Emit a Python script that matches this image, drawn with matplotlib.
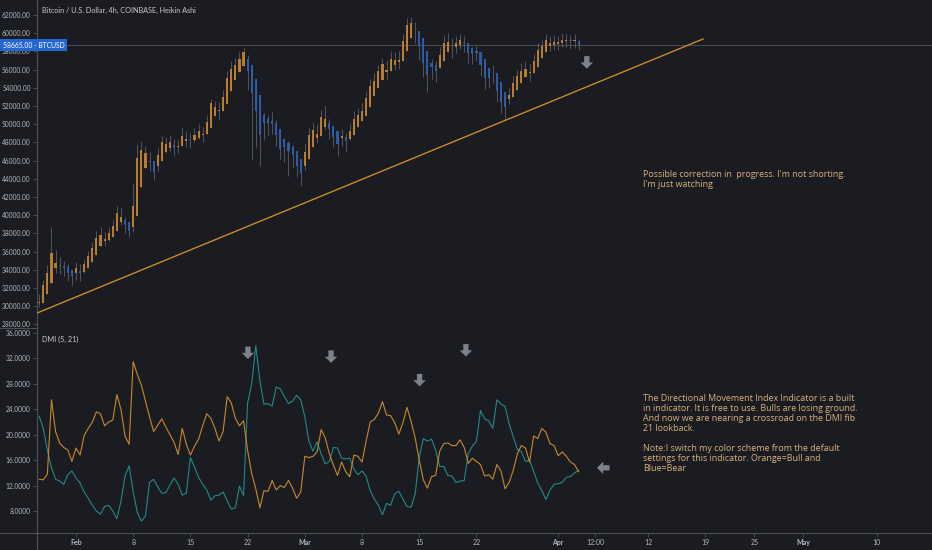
import numpy as np
import pandas as pd
import matplotlib
matplotlib.use('Agg')
import matplotlib.pyplot as plt
import matplotlib.dates as mdates
import matplotlib.transforms as mtransforms
from matplotlib.lines import Line2D

# ---- data (12h Heikin Ashi bars) ----
candle_start = '2021-01-27 12:00'
ha_open_first = 30300
ha_close = [30500, 32300, 33700, 35900, 34800, 34400, 34200, 33600, 33300, 34200,
            33700, 34600, 35500, 36400, 37500, 37800, 37400, 38000, 38800, 40200,
            39800, 38900, 38300, 41000, 46300, 47200, 46800, 45900, 44800, 46600,
            48000, 47800, 48000, 47400, 47600, 48700, 48400, 48200, 48800, 49200,
            48900, 50200, 52300, 51900, 51600, 53000, 55100, 56100, 56500, 57200,
            57900, 55900, 53400, 51400, 48800, 50100, 50100, 50000, 48800, 47300,
            47500, 47000, 46600, 45400, 44600, 46900, 48800, 49400, 48900, 50800,
            50600, 49500, 48600, 47800, 48700, 48100, 49300, 50600, 51000, 51500,
            52900, 54200, 54800, 55800, 56600, 56000, 57200, 57100, 57100, 59100,
            60900, 61100, 60200, 58600, 56700, 55400, 56300, 55900, 57600, 58950,
            59000, 58500, 58900, 59270, 58900, 57800, 57700, 57800, 56500, 55100,
            55100, 55600, 53700, 52400, 51900, 53200, 54500, 55300, 55900, 56100,
            55700, 56900, 58175, 58600, 59200, 58900, 59000, 59000, 59300, 59300,
            59100, 59200, 58700]
ha_high = [31300, 32900, 34500, 38700, 36200, 35400, 35000, 34600, 34000, 34900,
           34600, 35200, 36100, 37100, 38300, 38700, 38200, 38700, 39500, 41000,
           40800, 39800, 39000, 43500, 47800, 48200, 47600, 46900, 45700, 47400,
           48700, 48600, 48800, 48400, 48300, 49600, 49300, 49000, 49600, 50000,
           49700, 51000, 52800, 52600, 52400, 53800, 55900, 56900, 57300, 57900,
           58400, 57600, 55000, 53000, 50200, 51200, 51000, 51300, 50500, 48600,
           48500, 48200, 47700, 46800, 45800, 47900, 49600, 50200, 50000, 51600,
           52000, 50600, 49600, 48700, 49500, 49000, 50100, 51400, 51800, 52300,
           53700, 55000, 55600, 56500, 57300, 57000, 58000, 57900, 58000, 59900,
           61700, 61800, 61200, 59800, 57900, 56800, 57200, 56900, 58500, 59800,
           60000, 59500, 59700, 59900, 59700, 58800, 58500, 58600, 57600, 56300,
           56000, 56500, 55000, 53600, 52900, 54000, 55300, 56000, 56700, 56900,
           56600, 57700, 58900, 59300, 59900, 59700, 59800, 59700, 60000, 59900,
           59800, 59900, 59400]
ha_low = [29900, 31300, 32600, 33800, 33600, 33500, 33300, 32800, 32300, 32900,
          32800, 33700, 34600, 35500, 36500, 36800, 36600, 37200, 38000, 39200,
          38900, 38000, 37600, 38200, 42800, 46200, 45800, 44900, 43900, 44900,
          46900, 46800, 47100, 46500, 46800, 47800, 47500, 47400, 48000, 48400,
          48000, 49200, 51200, 50900, 50500, 51800, 53900, 55000, 55600, 56300,
          56800, 53800, 46100, 47500, 45400, 48300, 48800, 48900, 47600, 46200,
          45900, 44300, 45300, 44200, 43200, 45000, 47600, 48400, 47900, 49600,
          49500, 48400, 47500, 46500, 47600, 47100, 48300, 49500, 50000, 50500,
          51800, 53200, 53800, 54800, 55600, 54900, 56000, 56000, 56100, 57900,
          59700, 60000, 58900, 57000, 55200, 53500, 55000, 54600, 56500, 57900,
          58000, 57300, 57800, 58300, 57900, 56700, 56600, 56900, 55300, 53900,
          54000, 54500, 52600, 51200, 50500, 52200, 53500, 54400, 55000, 55200,
          54700, 55900, 57100, 57700, 58300, 58000, 58100, 58200, 58500, 58500,
          58300, 58400, 58100]

# DMI (5, 21), sampled every 12h
di_plus = [13.0, 12.9, 13.8, 25.5, 20.5, 18.7, 18.0, 17.6, 15.8, 17.9,
           16.8, 19.9, 21.0, 22.0, 23.6, 23.3, 21.4, 22.0, 22.3, 26.3,
           24.0, 19.8, 18.5, 31.5, 29.5, 27.8, 25.3, 22.8, 20.5, 21.5,
           22.5, 21.2, 20.0, 18.8, 16.9, 21.0, 18.5, 16.8, 18.2, 19.3,
           21.4, 23.3, 22.6, 21.0, 19.0, 20.5, 26.0, 25.0, 22.6, 21.4,
           22.2, 17.5, 13.9, 11.5, 8.5, 11.2, 11.1, 12.8, 11.3, 12.0,
           11.7, 12.8, 11.6, 10.0, 11.0, 16.6, 16.4, 16.6, 17.3, 20.8,
           19.5, 17.0, 15.2, 13.6, 15.7, 14.2, 13.4, 16.8, 16.6, 15.7,
           19.0, 22.0, 22.4, 23.4, 25.2, 23.1, 23.0, 21.9, 20.1, 21.9,
           24.3, 22.1, 19.5, 16.0, 12.9, 11.6, 13.4, 13.6, 17.4, 18.6,
           18.7, 18.3, 18.3, 19.2, 18.0, 15.5, 16.3, 15.8, 15.3, 13.5,
           13.7, 13.0, 15.3, 14.3, 11.5, 12.5, 14.4, 17.0, 18.3, 17.9,
           15.7, 19.8, 19.4, 21.0, 20.4, 18.6, 18.3, 16.7, 17.3, 16.6,
           15.7, 15.3, 14.2]
di_minus = [22.9, 21.0, 17.5, 14.8, 13.0, 12.7, 12.2, 13.7, 14.3, 13.2,
            12.4, 11.0, 10.0, 8.9, 8.0, 7.5, 8.7, 8.9, 8.0, 6.8,
            9.5, 13.5, 15.1, 11.0, 7.8, 6.4, 7.2, 12.5, 13.0, 11.8,
            10.8, 10.9, 12.1, 13.2, 12.2, 10.5, 10.8, 16.4, 14.9, 13.3,
            12.2, 11.3, 9.7, 10.4, 10.5, 11.0, 9.6, 8.3, 8.5, 11.9,
            10.4, 25.0, 28.0, 34.0, 28.5, 24.8, 24.9, 24.5, 27.5, 27.2,
            26.0, 24.9, 25.3, 26.2, 25.5, 22.8, 19.0, 17.4, 18.9, 17.0,
            15.4, 15.8, 18.0, 17.9, 16.3, 16.2, 16.3, 14.6, 13.7, 14.3,
            13.5, 11.2, 9.9, 8.9, 7.4, 9.2, 8.9, 10.7, 11.1, 9.9,
            8.7, 8.6, 10.7, 16.5, 19.4, 19.0, 19.3, 17.6, 15.0, 15.0,
            13.6, 13.5, 12.5, 12.7, 12.8, 17.0, 18.2, 19.0, 23.8, 22.5,
            22.2, 21.0, 25.5, 24.8, 24.5, 21.7, 19.7, 17.7, 17.3, 15.8,
            16.0, 14.2, 12.4, 11.2, 9.8, 11.3, 12.2, 12.3, 12.5, 13.3,
            13.4, 14.0, 14.4]

trend_dates = ['2021-01-27 05:30', '2021-04-18 17:15']
trend_prices = [29250, 59360]
last_price = 58665.00

price_ticks = list(range(28000, 62001, 2000))
dmi_ticks = [8, 12, 16, 20, 24, 28, 32, 36]
time_ticks = ['2021-02-01 00:00', '2021-02-08 00:00', '2021-02-15 00:00', '2021-02-22 00:00',
              '2021-03-01 00:00', '2021-03-08 00:00', '2021-03-15 00:00', '2021-03-22 00:00',
              '2021-04-01 00:00', '2021-04-05 12:00', '2021-04-12 00:00', '2021-04-19 00:00',
              '2021-04-25 00:00', '2021-05-01 00:00', '2021-05-10 00:00']
time_labels = ['Feb', '8', '15', '22', 'Mar', '8', '15', '22', 'Apr', '12:00',
               '12', '19', '25', 'May', '10']

# arrow markers: (date, value) of the arrow tip
down_arrows_price = [('2021-04-04 12:00', 56100)]
down_arrows_dmi = [('2021-02-22 01:00', 31.9), ('2021-03-04 05:00', 31.3),
                   ('2021-03-15 01:00', 27.6), ('2021-03-20 17:00', 32.3)]
left_arrows_dmi = [('2021-04-05 18:00', 14.8)]

note_price = "Possible correction in  progress. I'm not shorting.\nI'm just watching"
note_dmi = ("The Directional Movement Index Indicator is a built\n"
            "in indicator. It is free to use. Bulls are losing ground.\n"
            "And now we are nearing a crossroad on the DMI fib\n"
            "21 lookback.\n\n"
            "Note:I switch my color scheme from the default\n"
            "settings for this indicator. Orange=Bull and\n"
            "Blue=Bear")

# ---- style ----
bg = '#1b1c21'
axis_col = '#4e5058'
label_col = '#b2b5be'
bull = '#c8862f'
bear = '#2f60ae'
wick_col = '#6a6d78'
plus_col = '#c9872d'
minus_col = '#22898a'
note_col = '#d9b27c'
arrow_col = '#7f818a'
font = 'Lato'


def dnum(s):
    return mdates.date2num(pd.Timestamp(s))


W, H = 932, 550
fig = plt.figure(figsize=(W / 100, H / 100), dpi=100, facecolor=bg)
ax1 = fig.add_axes([37 / W, (H - 328) / H, (W - 37) / W, 328 / H], facecolor=bg)
ax2 = fig.add_axes([37 / W, (H - 533) / H, (W - 37) / W, 205 / H], facecolor=bg)

dates = mdates.date2num(pd.date_range(candle_start, periods=len(ha_close), freq='12h'))
ha_open = [ha_open_first]
for i in range(1, len(ha_close)):
    ha_open.append((ha_open[-1] + ha_close[i - 1]) / 2)
ha_open = np.array(ha_open)
ha_close = np.array(ha_close)
hi = np.maximum.reduce([np.array(ha_high), ha_open, ha_close])
lo = np.minimum.reduce([np.array(ha_low), ha_open, ha_close])
cols = np.where(ha_close >= ha_open, bull, bear)

ax1.vlines(dates, lo, hi, colors=wick_col, linewidth=0.7, alpha=0.7, zorder=2)
ax1.bar(dates, ha_close - ha_open, bottom=ha_open, width=0.26, color=cols,
        linewidth=0, alpha=0.9, zorder=3)

ax1.plot([dnum(d) for d in trend_dates], trend_prices, color='#c98a2c',
         linewidth=1.0, zorder=4)
ax1.axhline(last_price, color='#4b4d55', linewidth=0.7, zorder=1)

dmi_dates = mdates.date2num(pd.date_range(candle_start, periods=len(di_plus), freq='12h'))
ax2.plot(dmi_dates, di_minus, color=minus_col, linewidth=0.8)
ax2.plot(dmi_dates, di_plus, color=plus_col, linewidth=0.8)

xlim = (dnum('2021-01-27 05:30'), dnum('2021-05-16 17:45'))
for ax in (ax1, ax2):
    ax.set_xlim(xlim)
    for s in ('top', 'right'):
        ax.spines[s].set_visible(False)
    for s in ('left', 'bottom'):
        ax.spines[s].set_color(axis_col)
        ax.spines[s].set_linewidth(0.8)
    ax.tick_params(axis='y', colors=axis_col, labelcolor=label_col, labelsize=4.8,
                   length=3, width=0.6, pad=1.5)
    ax.grid(False)

ax1.set_ylim(27604, 63648)
ax1.set_yticks(price_ticks)
ax1.set_yticklabels([f'{p:.2f}' for p in price_ticks], fontfamily=font)
ax1.set_xticks([])

ax2.set_ylim(4.54, 36.79)
ax2.set_yticks(dmi_ticks)
ax2.set_yticklabels([f'{v:.4f}' for v in dmi_ticks], fontfamily=font)
ax2.set_xticks([dnum(t) for t in time_ticks])
ax2.set_xticklabels(time_labels, fontfamily=font)
ax2.tick_params(axis='x', colors=axis_col, labelcolor=label_col, labelsize=5,
                length=3, width=0.6, pad=1.5)
for t in ax2.get_xticklabels():
    if t.get_text() in ('Feb', 'Mar', 'Apr', 'May'):
        t.set_fontweight('bold')

# pane separators running under the price scale, and the scale border to the bottom
for yp in (328, 533):
    fig.add_artist(Line2D([0, 37 / W], [1 - yp / H, 1 - yp / H], color=axis_col,
                          linewidth=0.8, transform=fig.transFigure))
fig.add_artist(Line2D([37 / W, 37 / W], [0, 1 - 533 / H], color=axis_col,
                      linewidth=0.8, transform=fig.transFigure))

# price label box
tr = mtransforms.blended_transform_factory(fig.transFigure, ax1.transData)
ax1.text(3 / W, last_price, f'{last_price:.2f} - BTCUSD', transform=tr, color='white',
         fontsize=4.9, fontfamily=font, va='center', ha='left', zorder=10, clip_on=False,
         bbox=dict(boxstyle='square,pad=0.38', fc='#2467d0', ec='none'))

fig.text(42 / W, 1 - 10 / H, 'Bitcoin / U.S. Dollar, 4h, COINBASE, Heikin Ashi',
         color='#c8cad1', fontsize=5.2, fontfamily=font, va='center')
fig.text(42 / W, 1 - 339 / H, 'DMI (5, 21)', color='#c8cad1', fontsize=5.2,
         fontfamily=font, va='center')

fig.text(643 / W, 1 - 170 / H, note_price, color=note_col, fontsize=6.4,
         fontfamily='Open Sans', va='top', linespacing=1.1)
fig.text(643 / W, 1 - 394 / H, note_dmi, color=note_col, fontsize=6.4,
         fontfamily='Open Sans', va='top', linespacing=1.14)

arrow_kw = dict(arrowstyle='simple,head_length=0.45,head_width=0.9,tail_width=0.38',
                fc=arrow_col, ec='none', shrinkA=0, shrinkB=0)
for d, v in down_arrows_price:
    ax1.annotate('', xy=(dnum(d), v), xytext=(0, 9),
                 textcoords='offset points', arrowprops=arrow_kw)
for d, v in down_arrows_dmi:
    ax2.annotate('', xy=(dnum(d), v), xytext=(0, 9),
                 textcoords='offset points', arrowprops=arrow_kw)
for d, v in left_arrows_dmi:
    ax2.annotate('', xy=(dnum(d), v), xytext=(9, 0),
                 textcoords='offset points', arrowprops=arrow_kw)

fig.savefig('out.png', dpi=100, facecolor=bg)
